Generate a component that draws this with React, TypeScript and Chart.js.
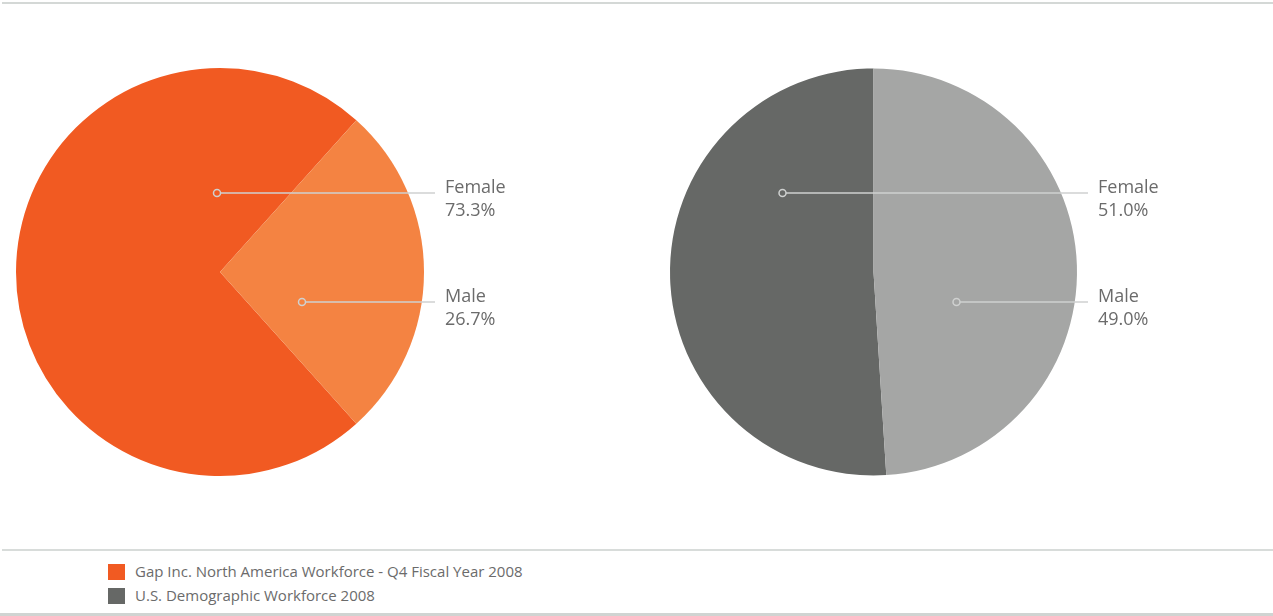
import React, { useEffect, useRef } from "react";
import { Chart, registerables } from "chart.js";
Chart.register(...registerables);

const categories = ["Female", "Male"];
const gapValues = [73.3, 26.7];
const usValues = [51.0, 49.0];
const gapValueLabels = ["73.3%", "26.7%"];
const usValueLabels = ["51.0%", "49.0%"];
const seriesNames = [
  "Gap Inc. North America Workforce - Q4 Fiscal Year 2008",
  "U.S. Demographic Workforce 2008",
];
const gapColors = ["#F15A22", "#F48342"];
const usColors = ["#666866", "#A5A6A5"];
const legendColors = ["#F15A22", "#666866"];

const FONT = "'Open Sans', 'Noto Sans', sans-serif";
const TEXT_COLOR = "#6b6b6b";
const LINE_COLOR = "#cfd1d0";

type LabelCfg = {
  dots: { dx: number; dy: number }[];
  lineEndX: number;
  textX: number;
  valueLabels: string[];
};

const leaderPlugin = {
  id: "leaderLabels",
  afterDraw(chart: any, _args: any, opts: LabelCfg) {
    const meta = chart.getDatasetMeta(0);
    const arc = meta.data[0];
    if (!arc) return;
    const cx = arc.x;
    const cy = arc.y;
    const ctx = chart.ctx;
    ctx.save();
    chart.data.labels.forEach((lab: string, i: number) => {
      const d = opts.dots[i];
      const x = cx + d.dx;
      const y = cy + d.dy;
      ctx.strokeStyle = LINE_COLOR;
      ctx.lineWidth = 1.5;
      ctx.beginPath();
      ctx.moveTo(x + 3.5, y);
      ctx.lineTo(opts.lineEndX, y);
      ctx.stroke();
      ctx.beginPath();
      ctx.arc(x, y, 3.5, 0, Math.PI * 2);
      ctx.stroke();
      ctx.fillStyle = TEXT_COLOR;
      ctx.font = `18px ${FONT}`;
      ctx.textBaseline = "middle";
      ctx.textAlign = "left";
      ctx.fillText(lab, opts.textX, y - 5);
      ctx.fillText(opts.valueLabels[i], opts.textX, y + 18);
    });
    ctx.restore();
  },
};

function PieCanvas(props: {
  values: number[];
  colors: string[];
  rotation: number;
  left: number;
  width: number;
  padding: { left: number; right: number; top: number; bottom: number };
  labels: LabelCfg;
}) {
  const ref = useRef<HTMLCanvasElement | null>(null);
  useEffect(() => {
    if (!ref.current) return;
    const chart = new Chart(ref.current, {
      type: "pie",
      data: {
        labels: categories,
        datasets: [
          {
            data: props.values,
            backgroundColor: props.colors,
            borderWidth: 0,
          },
        ],
      },
      options: {
        responsive: false,
        animation: false,
        rotation: props.rotation,
        layout: { padding: props.padding },
        plugins: {
          legend: { display: false },
          tooltip: { enabled: false },
          leaderLabels: props.labels,
        } as any,
      },
      plugins: [leaderPlugin],
    });
    return () => chart.destroy();
  }, []);
  return (
    <canvas
      ref={ref}
      width={props.width}
      height={548}
      style={{ position: "absolute", left: props.left, top: 0, width: props.width, height: 548 }}
    />
  );
}

export default function App() {
  const gapRotation = 90 + (gapValues[1] / 100) * 180;
  const usRotation = -(usValues[0] / 100) * 360;
  return (
    <div
      style={{
        position: "fixed",
        left: 0,
        top: 0,
        width: 1273,
        height: 616,
        background: "#ffffff",
        overflow: "hidden",
        fontFamily: FONT,
      }}
    >
      <div style={{ position: "absolute", left: 2, top: 2, width: 1271, height: 2, background: "#d4d8d6" }} />
      <PieCanvas
        values={gapValues}
        colors={gapColors}
        rotation={gapRotation}
        left={0}
        width={636}
        padding={{ left: 16, right: 212, top: 68, bottom: 72 }}
        labels={{
          dots: [
            { dx: -3, dy: -79 },
            { dx: 82, dy: 30 },
          ],
          lineEndX: 435,
          textX: 445,
          valueLabels: gapValueLabels,
        }}
      />
      <PieCanvas
        values={usValues}
        colors={usColors}
        rotation={usRotation}
        left={636}
        width={637}
        padding={{ left: 34, right: 196, top: 68, bottom: 72 }}
        labels={{
          dots: [
            { dx: -91, dy: -79 },
            { dx: 83, dy: 30 },
          ],
          lineEndX: 452,
          textX: 462,
          valueLabels: usValueLabels,
        }}
      />
      <div style={{ position: "absolute", left: 2, top: 549, width: 1271, height: 2, background: "#d8dcda" }} />
      {seriesNames.map((name, i) => (
        <div key={name} style={{ position: "absolute", left: 108, top: 563 + i * 24, height: 17, display: "flex", alignItems: "center" }}>
          <div style={{ width: 17, height: 16, background: legendColors[i] }} />
          <div style={{ marginLeft: 10, fontSize: 15, color: TEXT_COLOR, whiteSpace: "nowrap", lineHeight: "17px" }}>{name}</div>
        </div>
      ))}
      <div style={{ position: "absolute", left: 0, top: 613, width: 1273, height: 3, background: "#d0d4d2" }} />
    </div>
  );
}
